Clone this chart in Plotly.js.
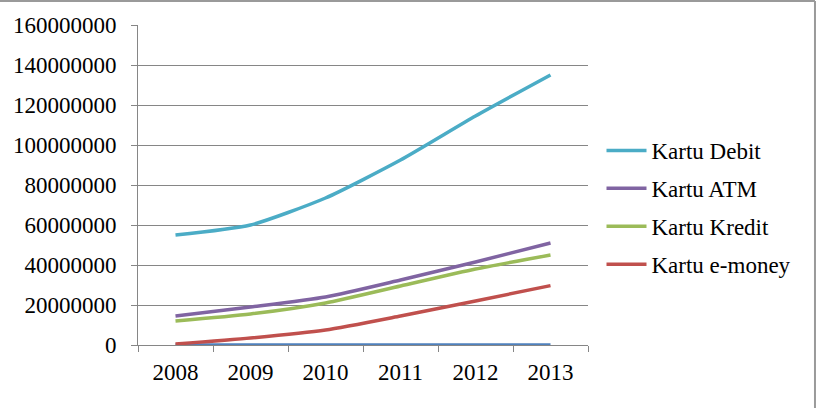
<!DOCTYPE html>
<html>
<head>
<meta charset="utf-8">
<script src="https://cdn.plot.ly/plotly-3.0.1.min.js"></script>
<style>html,body{margin:0;padding:0;background:#fff;}#chart{width:818px;height:408px;}</style>
</head>
<body>
<div id="chart"></div>
<script>
const years = ["2008", "2009", "2010", "2011", "2012", "2013"];
const kartuDebit = [55000000, 60000000, 73500000, 92500000, 114500000, 135000000];
const kartuATM = [14500000, 19000000, 24000000, 32500000, 41500000, 51000000];
const kartuKredit = [12000000, 15500000, 21000000, 29500000, 38000000, 45000000];
const kartuEmoney = [500000, 3500000, 7500000, 14500000, 22000000, 29700000];
const baseline = [0, 0, 0, 0, 0, 0];
const yTicks = [0, 20000000, 40000000, 60000000, 80000000, 100000000, 120000000, 140000000, 160000000];

const font = {family: "Liberation Serif", size: 23, color: "#000"};
function tr(name, y, color, show) {
  return {x: years, y: y, name: name, type: "scatter", mode: "lines",
    line: {color: color, width: 3.5, shape: "spline", smoothing: 0.6},
    showlegend: show, legendgroup: name, hoverinfo: "skip"};
}
const data = [
  tr("Baseline", baseline, "#4F81BD", false),
  tr("Kartu Debit", kartuDebit, "#4BACC6", true),
  tr("Kartu ATM", kartuATM, "#8064A2", true),
  tr("Kartu Kredit", kartuKredit, "#9BBB59", true),
  tr("Kartu e-money", kartuEmoney, "#C0504D", true)
];
const layout = {
  width: 818, height: 408,
  margin: {l: 138, r: 230, t: 25, b: 63},
  paper_bgcolor: "#fff", plot_bgcolor: "#fff",
  font: font,
  showlegend: true,
  legend: {x: 1.03, y: 0.675, xanchor: "left", yanchor: "top", font: font,
    tracegroupgap: 5, itemwidth: 40, bgcolor: "rgba(0,0,0,0)"},
  xaxis: {type: "category", tickson: "boundaries", ticks: "outside", ticklen: 6,
    tickcolor: "#868686", showline: true, linecolor: "#868686", linewidth: 1,
    showgrid: false, zeroline: false, tickfont: font, range: [-0.5, 5.5],
    ticklabelstandoff: 6},
  yaxis: {range: [0, 160000000], tickvals: yTicks, ticktext: yTicks.map(String),
    ticks: "outside", ticklen: 6, tickcolor: "#868686", showline: true,
    linecolor: "#868686", linewidth: 1, showgrid: true, gridcolor: "#868686",
    gridwidth: 1, zeroline: false, tickfont: font, ticklabelstandoff: 10},
  shapes: [
    {type: "line", xref: "paper", yref: "paper", x0: -0.31, x1: 1.5044, y0: 1.075, y1: 1.075,
      line: {color: "#9a9a9a", width: 2}},
    {type: "line", xref: "paper", yref: "paper", x0: 1.5044, x1: 1.5044, y0: 1.075, y1: -0.2,
      line: {color: "#9a9a9a", width: 2}}
  ]
};
Plotly.newPlot("chart", data, layout, {staticPlot: true, displayModeBar: false});
</script>
</body>
</html>
